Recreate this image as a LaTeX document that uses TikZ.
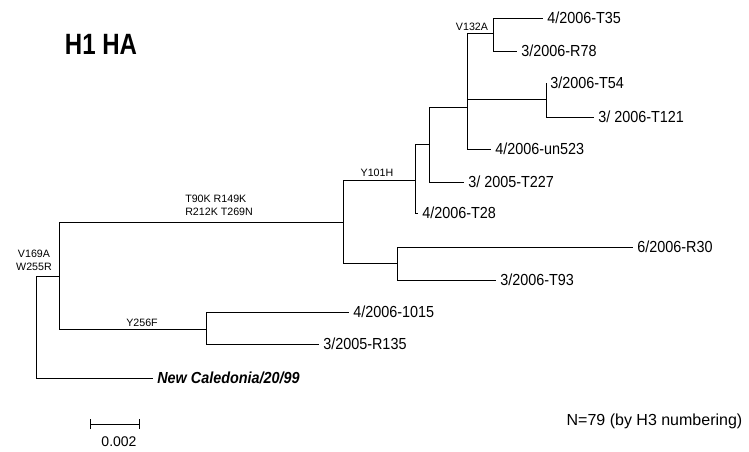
\documentclass[tikz,border=0pt]{standalone}
\usepackage{fontspec}
\setmainfont{Liberation Sans}
\newfontfamily\narrowfont[FakeStretch=0.9]{Liberation Sans}
\newfontfamily\titlefont[FakeStretch=0.82]{Liberation Sans}
\usetikzlibrary{arrows.meta}

\begin{document}
\begin{tikzpicture}[x=0.75pt,y=-0.75pt,
  branch/.style={line width=0.75pt},
  leaf/.style={anchor=west,inner sep=3pt,font=\narrowfont\fontsize{12}{14}\selectfont},
  mut/.style={inner sep=0pt,font=\fontsize{8}{9.5}\selectfont,align=center}]
\useasboundingbox (0,0) rectangle (749,451);
\node[font=\titlefont\bfseries\fontsize{22}{26}\selectfont] (title) at (101,44) {H1 HA};
% inner nodes of the tree
\coordinate (root) at (36,326);
\coordinate (nA) at (59,276);
\coordinate (nB) at (343,222);
\coordinate (nY) at (206,329);
\coordinate (nC) at (415,180);
\coordinate (nH) at (397,263);
\coordinate (nD) at (429,144);
\coordinate (nE) at (467,107);
\coordinate (nF) at (493,33);
\coordinate (nG) at (546,99);
% leaves
\node[leaf] (t35) at (543,18) {4/2006-T35};
\node[leaf] (r78) at (517,51) {3/2006-R78};
\node[leaf] (t54) at (546,83) {3/2006-T54};
\node[leaf] (t121) at (594,117) {3/ 2006-T121};
\node[leaf] (un523) at (491,149) {4/2006-un523};
\node[leaf] (t227) at (464,182) {3/ 2005-T227};
\node[leaf] (t28) at (418,213) {4/2006-T28};
\node[leaf] (r30) at (633,247) {6/2006-R30};
\node[leaf] (t93) at (496,280) {3/2006-T93};
\node[leaf] (x1015) at (349,312) {4/2006-1015};
\node[leaf] (r135) at (319,344) {3/2005-R135};
\node[leaf,font=\narrowfont\bfseries\itshape\fontsize{12}{14}\selectfont] (cal) at (153,378) {New Caledonia/20/99};
% branches
\draw[branch] (root) |- (nA);
\draw[branch] (root) |- (cal.west);
\draw[branch] (nA) |- (nB);
\draw[branch] (nA) |- (nY);
\draw[branch] (nY) |- (x1015.west);
\draw[branch] (nY) |- (r135.west);
\draw[branch] (nB) |- (nC);
\draw[branch] (nB) |- (nH);
\draw[branch] (nH) |- (r30.west);
\draw[branch] (nH) |- (t93.west);
\draw[branch] (nC) |- (nD);
\draw[branch] (nC) |- (t28.west);
\draw[branch] (nD) |- (nE);
\draw[branch] (nD) |- (t227.west);
\draw[branch] (nE) |- (nF);
\draw[branch] (nE) |- (nG);
\draw[branch] (nE) |- (un523.west);
\draw[branch] (nF) |- (t35.west);
\draw[branch] (nF) |- (r78.west);
\draw[branch] (nG) |- (t54.west);
\draw[branch] (nG) |- (t121.west);
% mutations on branches
\node[mut] (mRoot) at (34,260) {V169A\\W255R};
\node[mut,anchor=west,align=left] (mB) at (185,205) {T90K R149K\\R212K T269N};
\node[mut] (mY) at (142,323) {Y256F};
\node[mut] (mC) at (377,173) {Y101H};
\node[mut] (mF) at (472,27) {V132A};
% scale bar and note
\coordinate (barL) at (90,424);
\coordinate (barR) at (140,424);
\draw[line width=0.75pt,{Bar[width=7.5pt]}-{Bar[width=7.5pt]}] (barL) -- (barR);
\node[font=\fontsize{10.5}{12}\selectfont] (barlab) at (119,442) {0.002};
\node[anchor=east,font=\fontsize{12}{14}\selectfont] (note) at (747,421) {N=79 (by H3 numbering)};
\end{tikzpicture}
\end{document}
